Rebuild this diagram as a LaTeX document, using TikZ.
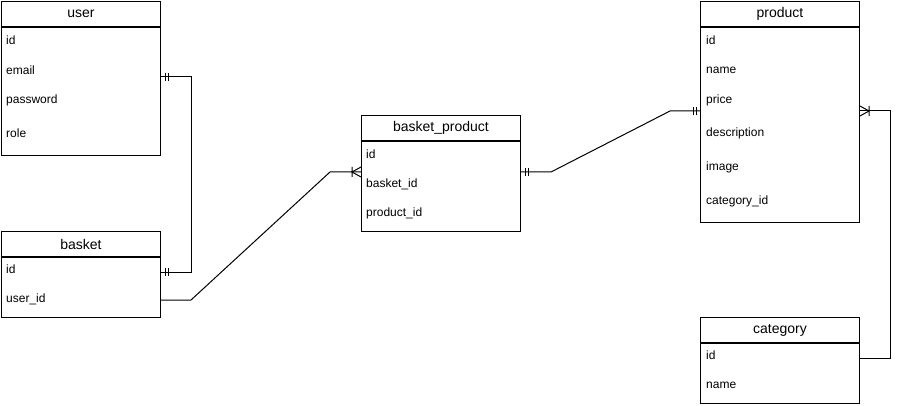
\documentclass[tikz,border=0pt]{standalone}
\usepackage{fontspec}
\setmainfont{Liberation Sans}
\usetikzlibrary{positioning}

\tikzset{
  head/.style={draw, line width=1pt, minimum width=159pt, minimum height=25pt,
    inner sep=0pt, font=\fontsize{14}{16}\selectfont},
  body/.style={draw, line width=1pt, minimum width=159pt, inner sep=0pt},
  field/.style={anchor=west, inner sep=0pt, font=\fontsize{12}{14}\selectfont},
  conn/.style={line width=1pt},
  mone/.pic={\draw[line width=1pt] (4,-4) -- (4,4) (7,-4) -- (7,4);},
  mmany/.pic={\draw[line width=1pt] (0,-5) -- (9,0) -- (0,5) (9,-5) -- (9,5);}
}

\begin{document}
\begin{tikzpicture}[x=1pt, y=-1pt]
  \useasboundingbox (0,0) rectangle (899,406);
  % user
  \node[head, anchor=north west] (user) at (1,1) {user};
  \node[body, minimum height=128pt, below=0pt of user] (userbody) {};
  \node[field] (user-id) at (6,40) {id};
  \node[field] (user-email) at (6,70) {email};
  \node[field] (user-password) at (6,100) {password};
  \node[field] (user-role) at (6,133) {role};
  % basket
  \node[head, anchor=north west] (basket) at (1,231) {basket};
  \node[body, minimum height=60pt, below=0pt of basket] (basketbody) {};
  \node[field] (basket-id) at (6,269) {id};
  \node[field] (basket-userid) at (6,299) {user\_id};
  % basket_product
  \node[head, anchor=north west] (bp) at (361,115) {basket\_product};
  \node[body, minimum height=90pt, below=0pt of bp] (bpbody) {};
  \node[field] (bp-id) at (366,154) {id};
  \node[field] (bp-basketid) at (366,184) {basket\_id};
  \node[field] (bp-productid) at (366,213) {product\_id};
  % product
  \node[head, anchor=north west] (product) at (700,1) {product};
  \node[body, minimum height=195pt, below=0pt of product] (productbody) {};
  \node[field] (product-id) at (706,40) {id};
  \node[field] (product-name) at (706,70) {name};
  \node[field] (product-price) at (706,100) {price};
  \node[field] (product-description) at (706,133) {description};
  \node[field] (product-image) at (706,167) {image};
  \node[field] (product-categoryid) at (706,201) {category\_id};
  % category
  \node[head, anchor=north west] (category) at (700,317) {category};
  \node[body, minimum height=60pt, below=0pt of category] (categorybody) {};
  \node[field] (category-id) at (706,355) {id};
  \node[field] (category-name) at (706,385) {name};
  % connection points
  \coordinate (u1) at (userbody.east |- 0,77);
  \coordinate (b1) at (basketbody.east |- 0,272);
  \coordinate (b2) at (basketbody.east |- 0,300);
  \coordinate (bp1) at (bpbody.west |- 0,172);
  \coordinate (bp2) at (bpbody.east |- 0,172);
  \coordinate (p1) at (productbody.west |- 0,111);
  \coordinate (p2) at (productbody.east |- 0,111);
  \coordinate (c1) at (categorybody.east |- 0,358);
  % user -- basket
  \draw[conn] (u1) -- ++(30,0) |- (b1);
  \pic at (u1) {mone};
  \pic at (b1) {mone};
  % basket -- basket_product
  \draw[conn] (b2) -- ++(30,0) -- ([xshift=-31pt]bp1) -- (bp1);
  \pic[rotate=180] at (bp1) {mmany};
  % basket_product -- product
  \draw[conn] (bp2) -- ++(30,0) -- ([xshift=-30pt]p1) -- (p1);
  \pic at (bp2) {mone};
  \pic[rotate=180] at (p1) {mone};
  % category -- product
  \draw[conn] (c1) -- ++(30,0) |- (p2);
  \pic at (p2) {mmany};
\end{tikzpicture}
\end{document}
